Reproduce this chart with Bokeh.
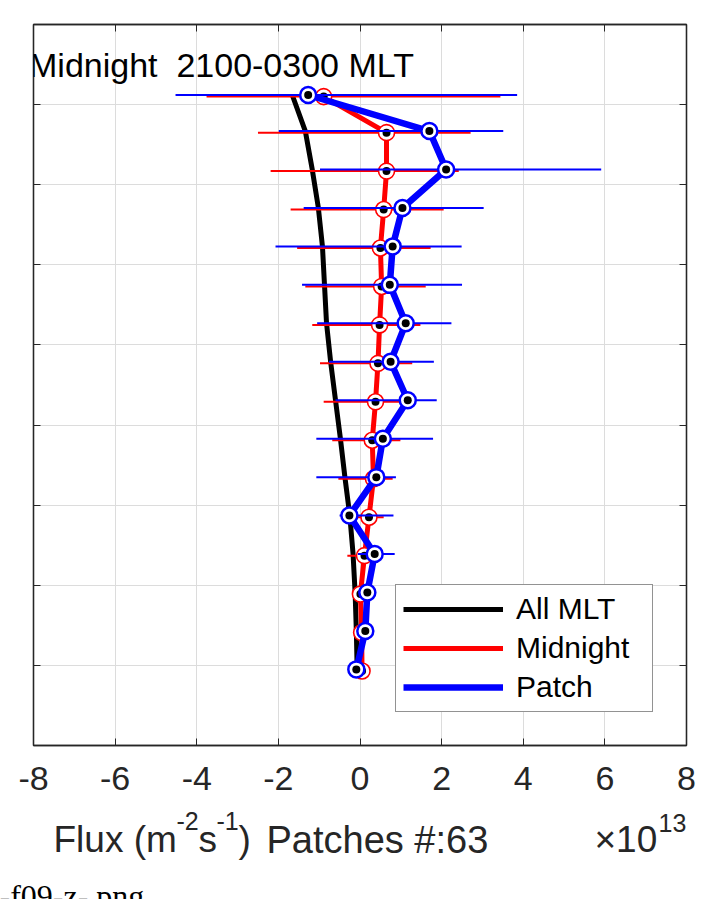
from bokeh.plotting import figure
from bokeh.layouts import column
from bokeh.models import (FixedTicker, LinearAxis, Label, Legend, LegendItem, Range1d,
                          CustomLabelingPolicy, Title)
from bokeh.embed import file_html
from bokeh.resources import INLINE

# Altitude of each bin (km) for the three profiles
alt_patch = [812, 767, 719, 671, 623, 575, 527, 479, 431, 383, 335, 287, 239, 191, 143, 95]
alt_midnight = [810, 765, 717, 669, 621, 573, 525, 477, 429, 381, 333, 285, 237, 189, 141, 93]
alt_all = [812, 767, 719, 671, 623, 575, 527, 479, 431, 383, 335, 287, 239, 191, 143, 95]

# Mean flux per bin, in units of 1e13 m^-2 s^-1
flux_all = [-1.66, -1.34, -1.17, -1.02, -0.92, -0.87, -0.82, -0.72, -0.60, -0.48,
            -0.37, -0.25, -0.17, -0.12, -0.09, -0.07]
flux_midnight = [-0.89, 0.65, 0.65, 0.58, 0.50, 0.53, 0.48, 0.44, 0.38, 0.30,
                 0.33, 0.22, 0.11, 0.01, 0.04, 0.05]
flux_patch = [-1.27, 1.70, 2.11, 1.04, 0.80, 0.73, 1.12, 0.75, 1.17, 0.56,
              0.40, -0.26, 0.36, 0.18, 0.13, -0.09]

# Spread of each bin (lower / upper ends of the horizontal bars)
midnight_lo = [-3.76, -2.50, -2.19, -1.70, -1.54, -1.34, -1.17, -0.98, -0.89, -0.68,
               -0.53, -0.05, -0.31, -0.19, -0.08, -0.05]
midnight_hi = [3.44, 2.71, 2.42, 2.05, 1.73, 1.61, 1.48, 1.28, 1.12, 0.99,
               0.80, 0.58, 0.55, 0.22, 0.18, 0.15]
patch_lo = [-4.52, -1.99, -0.98, -1.38, -2.07, -1.42, -1.05, -0.76, -0.60, -1.07,
            -1.07, -0.50, -0.05, 0.02, -0.02, -0.22]
patch_hi = [3.85, 3.51, 5.91, 3.03, 2.49, 2.50, 2.24, 1.81, 1.88, 1.79,
            0.88, 0.82, 0.85, 0.36, 0.30, 0.05]

x_ticks = [-8, -6, -4, -2, 0, 2, 4, 6, 8]
x_tick_labels = ["-8", "-6", "-4", "-2", "0", "2", "4", "6", "8"]
y_ticks = [100, 200, 300, 400, 500, 600, 700, 800]

legend_labels = ["All MLT", "Midnight", "Patch"]
title_text = "Midnight\u00a0 2100-0300 MLT"
file_caption = "-f09-z-.png"

FONT = "Liberation Sans"
INK = "#262626"

W = 701
H_PLOT = 797
LEFT, RIGHT, TOP, BOTTOM = 33, 15, 24, 52
X0, X1, Y0, Y1 = -8, 8, 0, 900
FW, FH = W - LEFT - RIGHT, H_PLOT - TOP - BOTTOM
NOTE_TOP = 810      # page row where the strip below the chart begins
NOTE_FRAME = 80


def dx(px):
    """canvas x pixel -> data x"""
    return X0 + (px - LEFT) * (X1 - X0) / FW


def dy(py):
    """canvas y pixel (from top) -> data y"""
    return Y0 + (H_PLOT - BOTTOM - py) * (Y1 - Y0) / FH


p = figure(width=W, height=H_PLOT, x_range=Range1d(X0, X1), y_range=Range1d(Y0, Y1),
           title=None, output_backend="svg", toolbar_location=None,
           min_border_left=LEFT, min_border_right=RIGHT,
           min_border_top=TOP, min_border_bottom=BOTTOM)
p.background_fill_color = "white"
p.border_fill_color = "white"
p.outline_line_color = INK
p.outline_line_width = 1.3

no_labels = "return []"


def tick_only(axis, ticks):
    """an axis frame edge with inward ticks and no numbers"""
    axis.ticker = FixedTicker(ticks=ticks)
    axis.major_label_policy = CustomLabelingPolicy(code=no_labels)
    axis.major_label_text_font_size = "1px"
    axis.major_label_standoff = 0
    axis.major_tick_in = 7
    axis.major_tick_out = 0
    axis.minor_tick_in = 0
    axis.minor_tick_out = 0
    axis.axis_line_color = INK
    axis.axis_line_width = 1.3
    axis.major_tick_line_color = INK


# bottom axis: numbers, ticks pointing inward
xa = p.xaxis[0]
xa.ticker = FixedTicker(ticks=x_ticks)
xa.major_label_overrides = dict(zip(x_ticks, x_tick_labels))
xa.major_label_text_font = FONT
xa.major_label_text_font_size = "34px"
xa.major_label_text_color = INK
xa.major_label_standoff = 21
xa.major_tick_in = 7
xa.major_tick_out = 0
xa.minor_tick_in = 0
xa.minor_tick_out = 0
xa.axis_line_color = INK
xa.axis_line_width = 1.3
xa.major_tick_line_color = INK

# left axis plus mirrored top / right edges: tick marks only
tick_only(p.yaxis[0], y_ticks)
top_axis = LinearAxis()
right_axis = LinearAxis()
tick_only(top_axis, x_ticks)
tick_only(right_axis, y_ticks)
p.add_layout(top_axis, "above")
p.add_layout(right_axis, "right")

p.xgrid.ticker = FixedTicker(ticks=x_ticks)
p.ygrid.ticker = FixedTicker(ticks=y_ticks)
p.grid.grid_line_color = "#dcdcdc"
p.grid.grid_line_width = 1

# All-MLT average profile
r_all = p.line(flux_all, alt_all, line_color="black", line_width=5, line_join="round")

# Midnight sector profile with its spread
p.segment(x0=midnight_lo, y0=alt_midnight, x1=midnight_hi, y1=alt_midnight,
          line_color="red", line_width=2)
r_mid = p.line(flux_midnight, alt_midnight, line_color="red", line_width=5, line_join="round")
p.scatter(flux_midnight, alt_midnight, marker="circle", size=16, fill_color="white",
          line_color="red", line_width=1.6)
p.scatter(flux_midnight, alt_midnight, marker="circle", size=8, fill_color="black",
          line_color=None)

# Patch profile with its spread
p.segment(x0=patch_lo, y0=alt_patch, x1=patch_hi, y1=alt_patch,
          line_color="blue", line_width=2)
r_patch = p.line(flux_patch, alt_patch, line_color="blue", line_width=6.5, line_join="round")
p.scatter(flux_patch, alt_patch, marker="circle", size=16, fill_color="white",
          line_color="blue", line_width=2.5)
p.scatter(flux_patch, alt_patch, marker="circle", size=8, fill_color="black",
          line_color=None)

legend = Legend(items=[LegendItem(label=legend_labels[0], renderers=[r_all]),
                       LegendItem(label=legend_labels[1], renderers=[r_mid]),
                       LegendItem(label=legend_labels[2], renderers=[r_patch])],
                location="bottom_right", margin=33, padding=7, spacing=5,
                glyph_width=100, glyph_height=24, label_height=24, label_width=129,
                label_standoff=13, label_text_font=FONT, label_text_font_size="30px",
                label_text_color="black", border_line_color=INK, border_line_width=1.3,
                background_fill_color="white", background_fill_alpha=1)
p.add_layout(legend)

# panel title inside the box
p.add_layout(Label(x=dx(28.5), y=dy(64), text=title_text, text_font=FONT,
                   text_font_size="34px", text_color="black", text_baseline="alphabetic"))

# strip under the axes for the axis label and multiplier;
# same horizontal borders/range as the chart, y range in pixels from its top
note = figure(width=W, frame_height=NOTE_FRAME, x_range=Range1d(X0, X1),
              y_range=Range1d(NOTE_FRAME, 0), title=None,
              output_backend="svg", toolbar_location=None,
              x_axis_location=None, y_axis_location=None,
              min_border_left=LEFT, min_border_right=RIGHT,
              min_border_top=0, min_border_bottom=0)
note.outline_line_color = None
note.grid.visible = False
note.background_fill_color = "white"
note.border_fill_color = "white"

base_y, sup_y = 852, 833
note_parts = [("Flux (m", 53, base_y, "37px"),
              ("-2", 176, sup_y, "25px"),
              ("s", 198, base_y, "37px"),
              ("-1", 216, sup_y, "25px"),
              (")", 238, base_y, "37px"),
              ("Patches #:63", 266, base_y, "38px"),
              ("\u00d710", 594, base_y, "37px"),
              ("13", 658, 835, "25px")]
for txt, px, py, fs in note_parts:
    note.add_layout(Label(x=dx(px), y=py - NOTE_TOP, text=txt, text_font=FONT,
                          text_font_size=fs, text_color=INK, text_baseline="alphabetic"))

# file name line under the strip, starting at the page's left edge
note.add_layout(Title(text=file_caption, align="left", offset=-LEFT - 1, standoff=0,
                      vertical_align="top", text_font="Liberation Serif",
                      text_font_size="32px", text_font_style="normal",
                      text_color="black"), "below")

layout = column(p, note, spacing=0)
open("out.html", "w").write(file_html(layout, INLINE))
